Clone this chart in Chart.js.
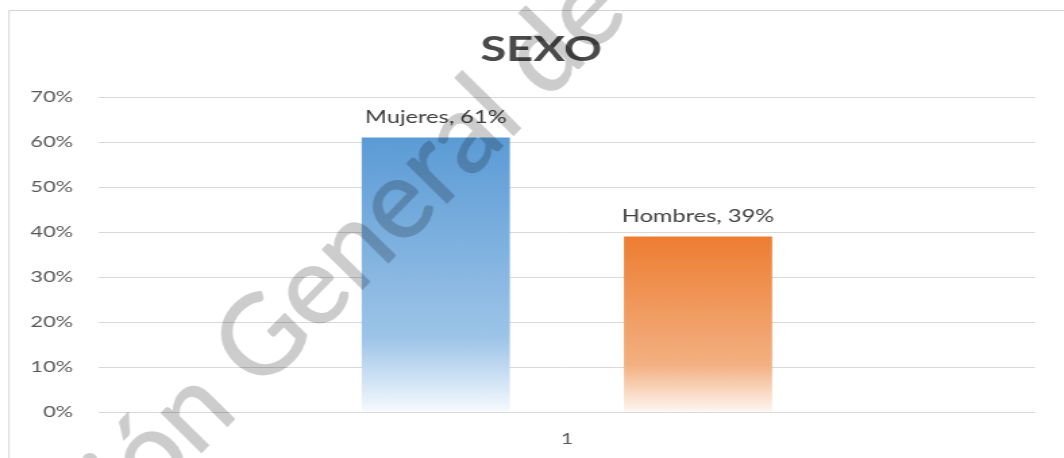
<!DOCTYPE html>
<html>
<head>
<meta charset="utf-8">
<script src="https://cdn.jsdelivr.net/npm/chart.js@4/dist/chart.umd.min.js"></script>
<style>
html,body{margin:0;padding:0;background:#fff;overflow:hidden;}
#sexoChart{display:block;width:1064px;height:458px;}
</style>
</head>
<body>
<canvas id="sexoChart" width="788" height="458" style="width:1064px;height:458px"></canvas>
<script>

// the source picture is a Calibri chart stretched sideways, so the canvas is drawn narrow and widened by css

const categories=["1"];

const seriesNames=["Mujeres","Hombres"];

const mujeres=[61];

const hombres=[39];

const yTicks=[0,10,20,30,40,50,60,70];

const watermark="Dirección General de";

const stretch=1064/788;

function barGradient(colors){

return function(c){

const chart=c.chart;

if(!chart.chartArea) return colors[0];

const y=chart.scales.y;

const t=y.getPixelForValue(c.raw);

const b=y.getPixelForValue(0);

const g=chart.ctx.createLinearGradient(0,t,0,b);

g.addColorStop(0,colors[0]);
g.addColorStop(0.73,colors[1]);
g.addColorStop(1,colors[2]);

return g;

};

}

function watermarkLayer(){

const off=document.createElement("canvas");

off.width=1064;
off.height=458;

const w=off.getContext("2d");

w.translate(152,503);
w.rotate(-45.5*Math.PI/180);
w.font="111px Lato";
w.fillStyle="#000";
w.strokeStyle="#000";
w.lineWidth=1.5;
w.lineJoin="round";

const x=-w.measureText("Direcci").width;

w.fillText(watermark,x,0);
w.strokeText(watermark,x,0);

return off;

}

const frameAndMarks={

id:"frameAndMarks",

afterDatasetsDraw(chart){

const ctx=chart.ctx;

ctx.save();

ctx.font="17.5px Lato";
ctx.fillStyle="#404040";
ctx.textAlign="center";
ctx.textBaseline="middle";

chart.data.datasets.forEach((ds,i)=>{

chart.getDatasetMeta(i).data.forEach((bar,j)=>{

ctx.fillText(`${ds.label}, ${ds.data[j]}%`,bar.x,bar.y-20);

});

});

ctx.restore();

},

afterDraw(chart){

const ctx=chart.ctx;

ctx.save();

ctx.strokeStyle="#d4d4d4";
ctx.lineWidth=1;
ctx.beginPath();
ctx.moveTo(6.7,458);
ctx.lineTo(6.7,10.5);
ctx.lineTo(788,10.5);
ctx.stroke();

ctx.globalAlpha=0.2;
ctx.drawImage(watermarkLayer(),0,0,1064/stretch,458);

ctx.restore();

}

};

new Chart(document.getElementById("sexoChart"),{

type:"bar",

data:{

labels:categories,

datasets:[

{
label:seriesNames[0],
data:mujeres,
backgroundColor:barGradient(["rgb(91,155,213)","rgb(157,196,232)","rgb(246,250,254)"]),
categoryPercentage:0.56,
barPercentage:0.565
},

{
label:seriesNames[1],
data:hombres,
backgroundColor:barGradient(["rgb(237,125,49)","rgb(243,176,129)","rgb(254,246,241)"]),
categoryPercentage:0.56,
barPercentage:0.565
}

]

},

options:{

responsive:false,
animation:false,
devicePixelRatio:1,

layout:{
padding:{left:20,right:6.6,top:10,bottom:8}
},

plugins:{

legend:{display:false},

tooltip:{enabled:false},

title:{
display:true,
text:"SEXO",
color:"#4a4a4a",
font:{family:"Lato",size:35,weight:"bold"},
padding:{top:19,bottom:26}
}

},

scales:{

x:{
afterFit(s){s.height=38;},
grid:{display:false,drawTicks:false},
border:{display:false},
ticks:{
color:"#595959",
font:{family:"Lato",size:16},
padding:17
}
},

y:{
min:0,
max:70,
afterFit(s){s.width=53;},
afterBuildTicks(s){s.ticks=yTicks.map(v=>({value:v}));},
grid:{color:"#d9d9d9",drawTicks:false},
border:{display:false},
ticks:{
color:"#595959",
font:{family:"Lato",size:16},
padding:19,
callback:v=>v+"%"
}
},

// empty right margin so the title sits where the original has it
yRight:{
position:"right",
min:0,
max:70,
afterFit(s){s.width=14.7;},
grid:{display:false,drawTicks:false},
border:{display:false},
ticks:{display:false}
}

}

},

plugins:[frameAndMarks]

});

</script>
</body>
</html>
